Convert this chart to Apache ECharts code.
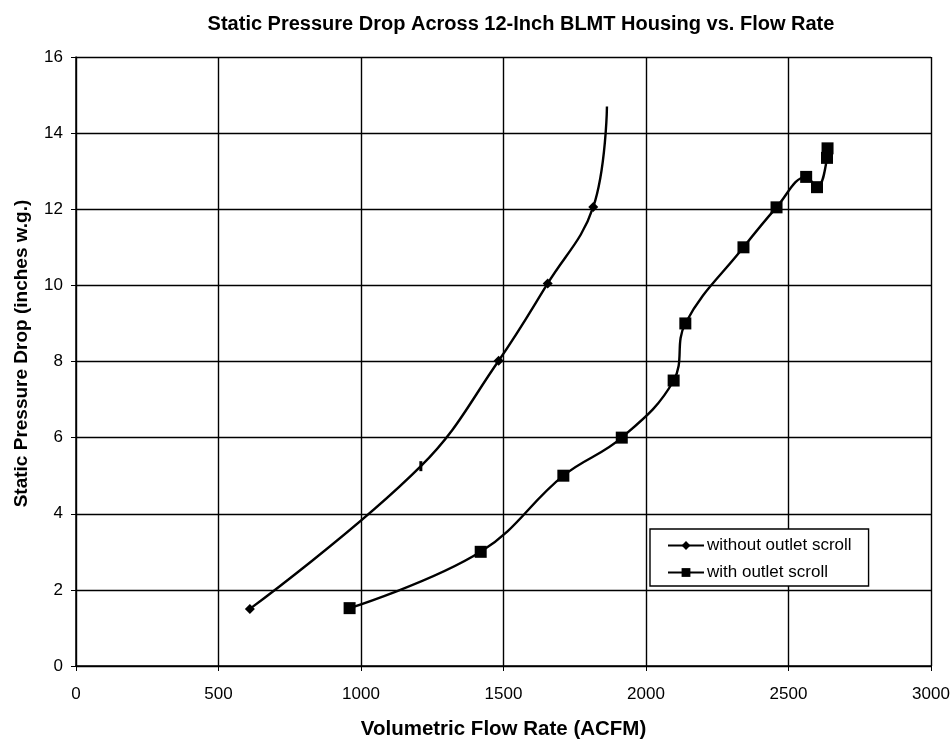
<!DOCTYPE html>
<html>
<head>
<meta charset="utf-8">
<script src="https://cdn.jsdelivr.net/npm/echarts@6/dist/echarts.min.js"></script>
<style>
html,body{margin:0;padding:0;background:#fff;}
#c{width:951px;height:744px;}
</style>
</head>
<body>
<div id="c"></div>
<script>
const titleText = 'Static Pressure Drop Across 12-Inch BLMT Housing vs. Flow Rate';
const xName = 'Volumetric Flow Rate (ACFM)';
const yName = 'Static Pressure Drop (inches w.g.)';
const seriesNames = ['without outlet scroll', 'with outlet scroll'];
const withoutFlow = [610, 1210, 1483, 1655, 1815, 1863];
const withoutDrop = [1.5, 5.25, 8.02, 10.05, 12.06, 14.7];
const withFlow = [960, 1420, 1710, 1915, 2097, 2138, 2342, 2458, 2562, 2600, 2635, 2637];
const withDrop = [1.52, 3.0, 5.0, 6.0, 7.5, 9.0, 11.0, 12.05, 12.85, 12.58, 13.35, 13.6];
const xTicks = [0, 500, 1000, 1500, 2000, 2500, 3000];
const yTicks = [0, 2, 4, 6, 8, 10, 12, 14, 16];

const chart = echarts.init(document.getElementById('c'));
const font = 'Arial, "Liberation Sans", sans-serif';

const withoutData = withoutFlow.map((v, i) => {
  const d = {value: [v, withoutDrop[i]]};
  if (i === withoutFlow.length - 1) d.symbol = 'none';
  if (i === 1) { d.symbol = 'rect'; d.symbolSize = [3, 10]; }
  return d;
});
const withData = withFlow.map((v, i) => [v, withDrop[i]]);

chart.setOption({
  animation: false,
  backgroundColor: '#fff',
  title: {
    text: titleText,
    left: 516, top: 9, textAlign: 'center',
    textStyle: {fontFamily: font, fontWeight: 'bold', fontSize: 20, color: '#000'}
  },
  grid: {left: 76, right: 20, top: 57, bottom: 78, containLabel: false, outerBoundsMode: 'none'},
  xAxis: {
    type: 'value', min: xTicks[0], max: xTicks[xTicks.length - 1], interval: 500,
    name: xName, nameLocation: 'middle', nameGap: 53,
    nameTextStyle: {fontFamily: font, fontWeight: 'bold', fontSize: 20.5, color: '#000'},
    axisLine: {show: true, lineStyle: {color: '#000', width: 1.5}},
    axisTick: {show: true, length: 5, lineStyle: {color: '#000'}},
    axisLabel: {fontFamily: font, fontSize: 17, color: '#000', margin: 20,
      formatter: v => String(v)},
    splitLine: {show: true, lineStyle: {color: '#000', width: 1.4}}
  },
  yAxis: {
    type: 'value', min: yTicks[0], max: yTicks[yTicks.length - 1], interval: 2,
    name: yName, nameLocation: 'middle', nameGap: 45,
    nameTextStyle: {fontFamily: font, fontWeight: 'bold', fontSize: 19, color: '#000',
      padding: [0, 0, 0, 16]},
    axisLine: {show: true, lineStyle: {color: '#000', width: 1.5}},
    axisTick: {show: true, length: 5, lineStyle: {color: '#000'}},
    axisLabel: {fontFamily: font, fontSize: 17, color: '#000', margin: 13},
    splitLine: {show: true, lineStyle: {color: '#000', width: 1.4}}
  },
  legend: {
    orient: 'vertical', left: 650, top: 529,
    itemWidth: 36, itemHeight: 11, itemGap: 10,
    padding: [8, 17, 5, 17],
    borderColor: '#000', borderWidth: 1.4, backgroundColor: '#fff',
    textStyle: {fontFamily: font, fontSize: 17, color: '#000', padding: [0, 0, 0, -2]},
    data: seriesNames
  },
  series: [
    {
      name: seriesNames[0], type: 'line', smooth: 0.4,
      data: withoutData,
      symbol: 'diamond', symbolSize: 10,
      lineStyle: {color: '#000', width: 2.4},
      itemStyle: {color: '#000'}
    },
    {
      name: seriesNames[1], type: 'line', smooth: 0.4,
      data: withData,
      symbol: 'rect', symbolSize: 12,
      lineStyle: {color: '#000', width: 2.4},
      itemStyle: {color: '#000'}
    }
  ]
});
</script>
</body>
</html>
